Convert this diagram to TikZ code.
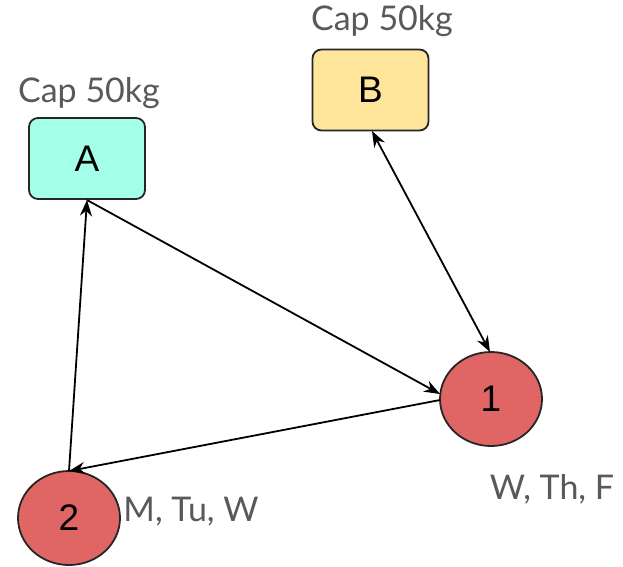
\documentclass[tikz,border=0pt]{standalone}
\usepackage{fontspec}
\setmainfont{Lato}
\newfontfamily\arialf{Liberation Sans}
\usetikzlibrary{arrows.meta,shapes.geometric}
\definecolor{aqua}{HTML}{A4FFE8}
\definecolor{sand}{HTML}{FFE59A}
\definecolor{redn}{HTML}{E06666}
\definecolor{labg}{HTML}{595959}
\tikzset{
  box/.style={draw=black!85,line width=1.8pt,rounded corners=9pt,minimum width=116pt,minimum height=81pt,inner sep=0pt,font=\arialf\fontsize{37}{37}\selectfont},
  town/.style={draw=black!85,line width=1.8pt,ellipse,fill=redn,minimum width=102pt,minimum height=94pt,inner sep=0pt,font=\arialf\fontsize{37}{37}\selectfont},
  lab/.style={text=labg,font=\fontsize{34}{34}\selectfont,inner sep=0pt},
  conn/.style={line width=1.8pt,-{Stealth[length=16pt,width=12pt]}},
}
\begin{document}
\begin{tikzpicture}[x=1pt,y=-1pt]
\useasboundingbox (0,0) rectangle (623,566);
\node[box,fill=aqua] (A) at (87,158.5) {A};
\node[box,fill=sand] (B) at (370.5,90) {B};
\node[town] (n1) at (491,399) {1};
\node[town] (n2) at (69,518) {2};
\node[lab] (capA) at (89,93) {Cap 50kg};
\node[lab] (capB) at (382,21) {Cap 50kg};
\node[lab] (d1) at (552,489) {W, Th, F};
\node[lab] (d2) at (191,512) {M, Tu, W};
\coordinate (Ab) at (87,200);
\coordinate (Bb) at (372,131);
\coordinate (n1t) at (490,352);
\coordinate (n1l) at (440,394);
\coordinate (n1l2) at (440,400);
\coordinate (n2t) at (69,471);
\draw[conn] (Ab) -- (n1l);
\draw[conn] (n1l2) -- (n2t);
\draw[conn] (n2t) -- (Ab);
\draw[line width=1.8pt,{Stealth[length=16pt,width=12pt]}-{Stealth[length=16pt,width=12pt]}] (Bb) -- (n1t);
\end{tikzpicture}
\end{document}
